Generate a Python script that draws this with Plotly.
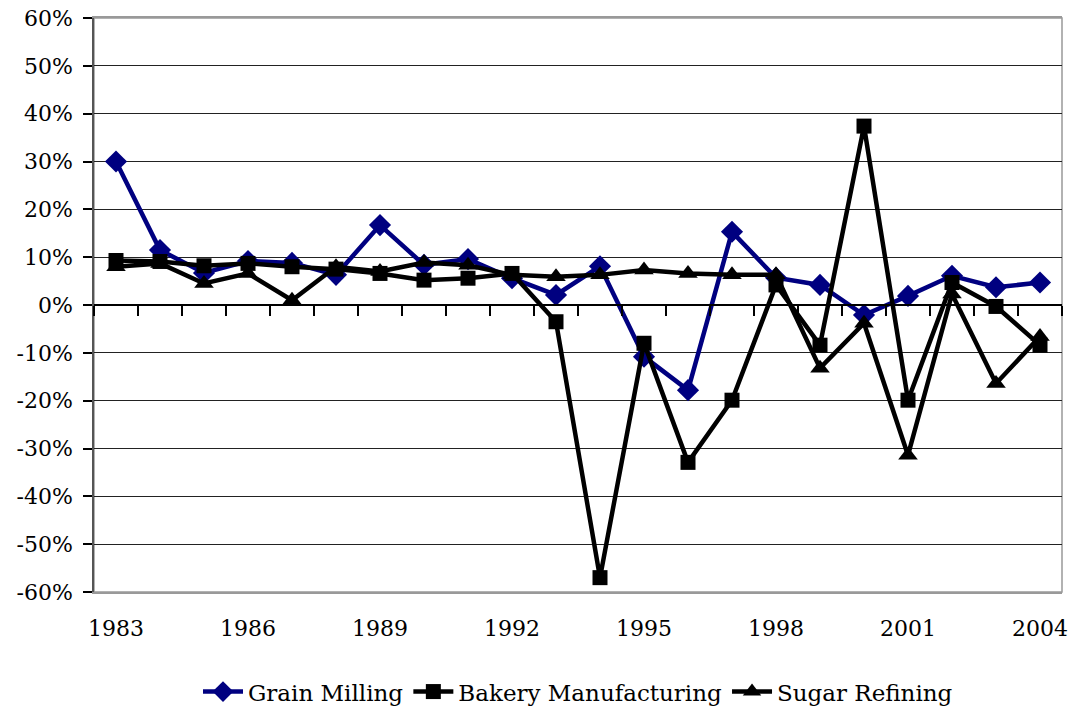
import plotly.graph_objects as go

years = [str(y) for y in range(1983, 2005)]
grain_milling = [30.0, 11.5, 6.7, 9.2, 8.8, 6.3, 16.7, 8.4, 9.6, 5.6, 2.1, 8.1,
                 -10.8, -17.8, 15.3, 5.7, 4.2, -2.1, 1.9, 6.1, 3.7, 4.7]
bakery_manufacturing = [9.3, 9.1, 8.2, 8.7, 8.0, 7.5, 6.6, 5.2, 5.6, 6.6, -3.5, -57.0,
                        -8.0, -32.9, -19.9, 4.2, -8.4, 37.4, -19.9, 4.7, -0.3, -8.4]
sugar_refining = [8.0, 8.7, 4.5, 6.6, 1.0, 8.0, 7.0, 8.9, 8.3, 6.3, 5.9, 6.3,
                  7.3, 6.6, 6.3, 6.3, -13.2, -3.8, -31.4, 2.3, -16.4, -6.6]
series_names = ["Grain Milling", "Bakery Manufacturing", "Sugar Refining"]
y_ticks = list(range(-60, 61, 10))
y_tick_labels = [f"{v}%" for v in y_ticks]
x_tick_labels = years[::3]

FONT = "DejaVu Serif"

fig = go.Figure()
fig.add_trace(go.Scatter(x=years, y=grain_milling, name=series_names[0],
                         mode="lines+markers",
                         line=dict(color="#000080", width=4.5),
                         marker=dict(symbol="diamond", size=17, color="#000080")))
fig.add_trace(go.Scatter(x=years, y=bakery_manufacturing, name=series_names[1],
                         mode="lines+markers",
                         line=dict(color="#000000", width=4.5),
                         marker=dict(symbol="square", size=15, color="#000000")))
fig.add_trace(go.Scatter(x=years, y=sugar_refining, name=series_names[2],
                         mode="lines+markers",
                         line=dict(color="#000000", width=4.5),
                         marker=dict(symbol="triangle-up", size=17, color="#000000")))
fig.add_trace(go.Scatter(x=years, y=[None] * len(years), xaxis="x2", showlegend=False,
                         hoverinfo="skip", mode="lines"))

fig.update_layout(
    template="none",
    width=1073, height=713,
    paper_bgcolor="white", plot_bgcolor="white",
    margin=dict(l=94, r=11, t=18, b=121, autoexpand=False),
    font=dict(family=FONT, size=22, color="black"),
    showlegend=True,
    legend=dict(orientation="h", x=0.5, xanchor="center", xref="paper",
                yref="container", y=0.03, yanchor="middle",
                font=dict(family=FONT, size=23, color="black"),
                itemwidth=40, tracegroupgap=0, itemclick=False),
    xaxis=dict(type="category", categoryarray=years, range=[-0.5, 21.5],
               tickmode="array", tickvals=x_tick_labels, ticktext=x_tick_labels,
               ticks="", showgrid=False, showline=True, linecolor="#999999",
               linewidth=1.5, mirror=True, ticklabelstandoff=16, automargin=False,
               zeroline=False,
               tickfont=dict(family=FONT, size=22, color="black")),
    xaxis2=dict(type="category", categoryarray=years, range=[-0.5, 21.5],
                overlaying="x", anchor="free", position=0.5,
                tickmode="linear", tick0=0, dtick=1, tickson="boundaries",
                ticks="outside", ticklen=10, tickwidth=1.5, tickcolor="black",
                showticklabels=False, showgrid=False, showline=True,
                linecolor="black", linewidth=1.5, zeroline=False),
    yaxis=dict(range=[-60, 60], tickmode="array", tickvals=y_ticks,
               ticktext=y_tick_labels,
               ticks="outside", ticklen=9, tickwidth=1.5,
               tickcolor="black", showgrid=True, gridcolor="#222222", gridwidth=1.2,
               zeroline=False, showline=True, linecolor="#555555", linewidth=1.5,
               ticklabelstandoff=6, automargin=False, mirror=False,
               tickfont=dict(family=FONT, size=22, color="black")),
)
fig.add_shape(type="rect", xref="paper", yref="paper", x0=0, x1=1, y0=0, y1=1,
              line=dict(color="#999999", width=1.5), layer="below")

fig.write_html("out.html", config={"displayModeBar": False},
               post_script="document.body.style.margin='0';")
